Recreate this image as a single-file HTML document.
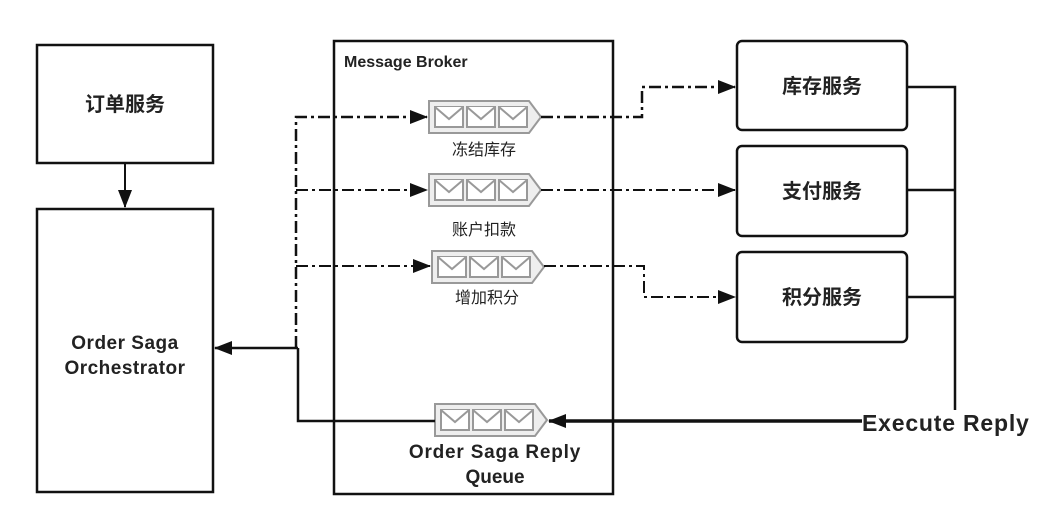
<!DOCTYPE html>
<html><head><meta charset="utf-8"><style>
html,body{margin:0;padding:0;background:#fff;}
svg{display:block;}
text{font-family:"Liberation Sans","Noto Sans CJK SC",sans-serif;fill:#222;}
</style></head><body>
<svg width="1055" height="515" viewBox="0 0 1055 515" xmlns="http://www.w3.org/2000/svg">
<defs>
<marker id="ahb" markerWidth="18" markerHeight="14" refX="17" refY="7" orient="auto" markerUnits="userSpaceOnUse">
<path d="M0,0 L18,7 L0,14 z" fill="#111"/></marker>
<g id="q">
<path d="M0,0 H100 L112,16 L100,32 H0 z" fill="#eee" stroke="#999" stroke-width="2"/>
<g fill="#fff" stroke="#999" stroke-width="2">
<rect x="6" y="6" width="28" height="20"/><path d="M6,6 L20,18 L34,6"/>
<rect x="38" y="6" width="28" height="20"/><path d="M38,6 L52,18 L66,6"/>
<rect x="70" y="6" width="28" height="20"/><path d="M70,6 L84,18 L98,6"/>
</g></g>
</defs>
<g fill="none" stroke="#111" stroke-width="2.5">
<rect x="37" y="45" width="176" height="118"/>
<rect x="37" y="209" width="176" height="283"/>
<rect x="334" y="41" width="279" height="453"/>
<rect x="737" y="41" width="170" height="89" rx="5"/>
<rect x="737" y="146" width="170" height="90" rx="5"/>
<rect x="737" y="252" width="170" height="90" rx="5"/>
</g>
<line x1="125" y1="163" x2="125" y2="207" stroke="#111" stroke-width="2" marker-end="url(#ahb)"/>
<text x="125" y="111" font-size="20" font-weight="bold" text-anchor="middle">订单服务</text>
<text x="125" y="349" font-size="19" font-weight="bold" text-anchor="middle" letter-spacing="0.5">Order Saga</text>
<text x="125" y="374" font-size="19" font-weight="bold" text-anchor="middle" letter-spacing="0.5">Orchestrator</text>
<text x="344" y="67" font-size="16" font-weight="bold">Message Broker</text>
<text x="822" y="93" font-size="20" font-weight="bold" text-anchor="middle">库存服务</text>
<text x="822" y="198" font-size="20" font-weight="bold" text-anchor="middle">支付服务</text>
<text x="822" y="304" font-size="20" font-weight="bold" text-anchor="middle">积分服务</text>
<use href="#q" x="429" y="101"/>
<use href="#q" x="429" y="174"/>
<use href="#q" x="432" y="251"/>
<use href="#q" x="435" y="404"/>
<text x="484" y="155" font-size="16" text-anchor="middle">冻结库存</text>
<text x="484" y="235" font-size="16" text-anchor="middle">账户扣款</text>
<text x="487" y="303" font-size="16" text-anchor="middle">增加积分</text>
<text x="495" y="458" font-size="19" font-weight="bold" text-anchor="middle" letter-spacing="0.8">Order Saga Reply</text>
<text x="495" y="483" font-size="19" font-weight="bold" text-anchor="middle">Queue</text>
<g fill="none" stroke="#111" stroke-width="2.5" stroke-dasharray="12,4,3,4">
<path d="M296,348 V117 H427" marker-end="url(#ahb)"/>
<path d="M296,190 H427" stroke-width="2" marker-end="url(#ahb)"/>
<path d="M296,266 H430" stroke-width="2" marker-end="url(#ahb)"/>
<path d="M541,117 H642 V87 H735" marker-end="url(#ahb)"/>
<path d="M541,190 H735" stroke-width="2" marker-end="url(#ahb)"/>
<path d="M544,266 H644 V297 H735" stroke-width="2" marker-end="url(#ahb)"/>
</g>
<g fill="none" stroke="#111" stroke-width="2.5">
<path d="M298,348 H215" marker-end="url(#ahb)"/>
<path d="M435,421 H298 V348"/>
<path d="M907,87 H955 V410 M907,190 H955 M907,297 H955"/>
<path d="M862,421 H549" stroke-width="3.5" marker-end="url(#ahb)"/>
</g>
<text x="862" y="431" font-size="23" font-weight="bold" letter-spacing="0.8">Execute Reply</text>
</svg>
</body></html>
